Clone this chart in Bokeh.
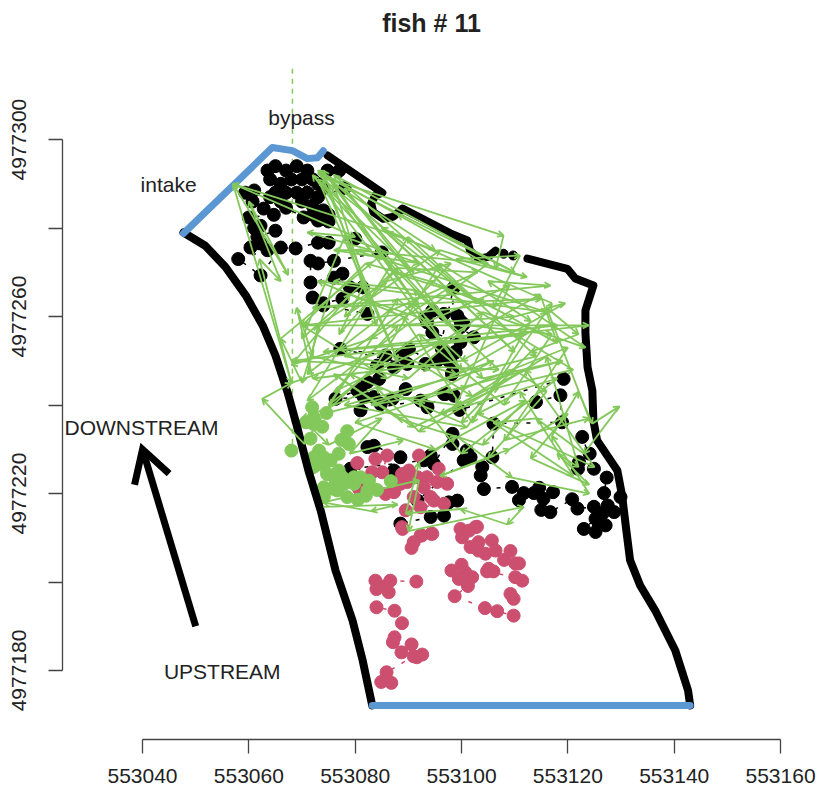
from bokeh.plotting import figure
from bokeh.models import ColumnDataSource, Arrow, OpenHead, FixedTicker, Title
from bokeh.core.properties import value
from bokeh.embed import file_html
from bokeh.resources import INLINE

X0 = 553000
Y0 = 4977000
x_ticks = [553040, 553060, 553080, 553100, 553120, 553140, 553160]
y_ticks = [4977180, 4977200, 4977220, 4977240, 4977260, 4977280, 4977300]
y_labelled = [4977180, 4977220, 4977260, 4977300]

bank_left = [(47.7,279),(51.8,276),(55.6,271.2),(59.4,264.8),(62.6,258),(65,251.2),(67.3,242.8),(69,235.4),
             (71.2,225.2),(73.5,216.2),(76.3,202.6),(79.5,191.3),(81.4,182.3),(83.2,172.1)]
bank_top = [(74.8,296.4),(85.1,288),(83.8,287.4),(83,285.6),(83.4,283.6),(85.3,282.1),(87.2,282.6),(88.9,284.4),
            (97.9,278.8),(101.1,277.2),(101.6,274.9),(103.2,273.1),(105,273.5),(106.4,274.9)]
bank_dots = [(107.9,274.2),(109.7,273.8)]
bank_right = [(112.4,273.1),(119.9,270.8),(121.4,268.6),(124.8,267),(123.3,261.4),(123.3,256.2),(123.7,248.5),
              (124.6,243.3),(124.8,236.5),(125.5,232),(129.3,225.2),(130.2,219.5),(131,211.6),(131.7,204.9),
              (133.6,199.2),(136.4,193.6),(140.2,184.5),(142.6,175.5),(143,172.1)]
intake = [(47.7,278.8),(64.4,298.2),(68.2,297.5),(71,295.7),(72.9,295.9),(74,297.5)]
upstream_edge = [(83.2,172.1),(143,172.1)]
bypass = [(68.2,316),(68.2,229.7)]
flow_arrow = [(50,190),(40,230)]
flow_head = [(38.5,222),(40,230),(45,224.5)]

black_top = [(63.5,293),(65,294),(64,291),(67,293),(69,294),(71,293),(72,291),(66,290),(68,291),(70,291),(73,290),
             (65,288),(67,288),(69,288),(71,288),(73,287),(74,289),(64,287),(66,286),(70,286),(72,285),(74,284),
             (75,283),(73.5,282),(75,281.5),(72,283),(74.8,293),(77,293),(78,289),(67,284.6),(70.3,282.4),(73,281.7)]
black_left = [(59.3,288),(61,288.5),(60.7,286),(62.8,284.4),(64.7,283),(60,282.4),(62.2,280.5),(61,280),(65,279.4),
              (61.6,278),(62.2,276.5),(60.3,275.6),(63.5,275),(58,273),(62.2,269.3),(66,275.6),(68.8,275.4),
              (73,276.7),(75,276.7),(80,277.6),(85,274.5),(76,272.6),(73,272),(71.6,272.6),(71.6,267.7),(76,268.8),
              (77.6,269.7),(79,266.6),(81.4,266.6),(77.6,264),(74,263),(72,264.3),(74,262.5),(82.3,260.6)]
black_mid = [(93.2,259.8),(93.5,258.7),(94.5,261.3),(96.7,260.6),(99.2,260.2),(100.4,258.3),(99.8,259),(99.8,257.6),
             (102.3,255.3),(98.8,252),(96.3,252.7),(94.5,256.4),(99.8,254.2),(96.7,252.3),(98.9,251.9),(97.9,250),
             (98.5,266.5),(95.4,250),(93.2,249.3),(97.6,250),(98.3,247.4),(98.2,247),(90.1,252.7),(88.5,251.2),
             (85.7,251.2),(77.2,252.7),(89.8,249.3),(87.3,248.5),(84.1,248.9),(84.5,245.9),(82.3,245.2),(81,243.6),
             (80.4,243.3),(76.3,241.4),(81.6,241.8),(83.5,241.8),(87,241.4),(89.5,243.6),(84.8,240.2),(81,238.8),
             (92.3,241),(93.6,239.5),(96.7,242.5),(97,242.5),(98.6,242.1),(99.6,238.9),(119.2,245.9)]
black_low = [(82.3,230.5),(83.5,230.8),(88.5,228.2),(87.3,225.2),(79.1,225.6),(92.9,227.5),(94.2,228.6),(94.8,226.7),
             (98.3,233.5),(98.3,231.2),(101,229.7),(101.7,228.2),(100.4,227.5),(91.7,218.4),(97.6,218),(99.2,218.4),
             (96.7,215),(94.2,214.7),(88.5,213.2)]
black_right = [(114,240.7),(118.6,242.2),(118.9,236.1),(106,235.8),(105.8,228.2),(103.9,226),(103.6,224.1),(104.2,221),
               (109.5,221.5),(111.7,220.1),(110.8,218.5),(113.6,220.1),(114.6,221.3),(115.4,218.8),(117.2,220.3),
               (115,216.3),(116.7,215.8),(120.8,218.7),(121.8,216.6),(124.9,217),(126.5,215.4),(125.2,214.3),(123,212),
               (125.2,211.3),(127.1,212.8),(125.8,213.2),(128.7,215.8),(127.5,217.3),(129.9,219.2),(126.8,220.1),
               (127.3,223.6),(124.9,225.6),(122.7,232.8),(124.1,229),(122.1,227.1),(121.9,225.6)]

red_upper = [(80.4,226.9),(83.8,227.8),(86,228.6),(85.1,224.8),(83.2,224.8),(80.7,221.1),(85.7,219.9),(87.3,220.3),
             (88.5,222.2),(88.8,224.4),(89.8,222.6),(90.1,225.2),(92,228.6),(91.7,223.7),(93.5,223.7),(95.7,225.6),
             (97.3,222.2),(95.4,222.6),(92.9,221.4),(91,219.2),(94.2,219.2),(94.8,218.4),(96.7,217.7),(92.3,216.9),
             (89.5,216.2),(88.9,212),(88.8,212.4),(91,209),(90.6,207.7),(92.5,210.5),(92.3,210.5),(94.3,210.9),
             (94.5,210.9)]
red_east = [(99.8,212),(100.1,210.1),(101.4,211.6),(102.6,212.4),(102.9,212.5),(103.2,209),(105.7,209.4),(106.4,207.1),
            (104.5,206.4),(103.2,207.1),(101.7,207.9),(100,203.9),(98.1,202.6),(100.7,202.2),(102,201.1),(99.5,200.7),
            (101.2,199.1),(98.7,196.8),(104.4,194.1),(106.7,193.4),(109.8,192.4),(109.8,196.2),(109.2,197.3),
            (111.4,200.3),(110.1,201.1),(104.8,202.4),(105.1,203),(106,202.4),(108,205),(110.1,204.2),(110.8,204.2),
            (109.2,207)]
red_west = [(91.5,200.1),(86.6,200.3),(85.4,199),(86.3,197.7),(84,198.4),(83.8,200.3),(84,194.3),(87.4,193.5),(88.8,190.7),
            (87.4,187.5),(87.1,186.4),(88.7,184.1),(90.6,185.9),(92.6,183.6),(91.6,183),(91,183.2),(85.9,179.6),
            (86.8,177.2),(84.9,177.4)]

green_pts = [(71.9,239.5),(74.6,238.2),(72.2,237.2),(70.7,236.1),(73.8,235.1),(72.2,235.7),(78.5,234.1),(71.6,232.4),
             (77.4,232.1),(78.8,231.2),(68,229.7),(73.2,229.7),(76.9,229),(72.2,228.2),(74.1,228.2),(75.4,227.5),
             (72.9,226.7),(74.1,226.3),(76.9,225.2),(75.7,224.1),(77.6,223.7),(79.8,223.7),(81,223.7),(82.6,222.9),
             (86.7,222.8),(76.3,222.2),(77.9,222.2),(79.8,222.2),(74.1,221.4),(75.7,221.1),(84.1,220.8),(82.3,220.7),
             (74.1,219.2),(78.5,219.2),(80.5,218.6),(82,219.5),(76.6,220.7),(74.7,224.4),(72.2,226)]

track = [(74,217),(88,217.5),(83,216),(74,218),(92,223),(90,211.5),(111.7,217),(108.6,213),(99.8,216.5),(89.5,215.5),
         (92,227),(99,233),(109.5,223.6),(124,220),(117,233),(122,243),(124.6,235.8),(129.7,239.7),(123,229),(114,237),
         (106,236),(121,224),(111,243),(103,238),(125,226),(112,248),(96,238),(118,246),(100,229),(92,241),(106,250),
         (83,240),(101,244),(120,253),(108,232),(124,237),(116,262),(122,256),(113,252),(100,236),(79,247),(70.4,231.2),
         (62.5,241.4),(68,245),(85,252),(99,247),(115,258),(123.9,258),(95,254),(76,243),(88,258),(110,260),(119.5,263),
         (100,250),(72,246),(69,262),(72,251),(90,246),(104,261),(123.3,253),(105,268),(116.7,267),(72,262),(115,264),
         (70,258),(118,258),(74,252),(112,256),(68,250),(107,248),(91,266),(76,268),(70,245),(66,255),(85,274),(100,255),
         (114.8,265),(118,254),(103,264),(87,270),(78,260),(96,275),(112.3,268.9),(99,273),(111,273.8),(106,262),(94,268),
         (82,272),(70,258),(86,246),(101,258),(117,256),(108,240),(92,256),(75,240),(88,264),(104,246),(119,250),(97,243),
         (80,236),(95,230),(112,241),(104,231),(88,237),(76,247),(91,235),(107,244),(121,248),(110,256),(97,266),(83,255),
         (68,249),(79,265),(94,259),(109,267),(99,240),(87,242),(74,238),(84,249),(96,272),(113,259),(102,236),(89,260),
         (73,268),(116,261),(80,275),(105,272),(71,241),(90,278),(114,251),(78,240),(101,235),(117,263),(85,280),(110,252),
         (75.4,291),(107.9,278.3),(106.4,270.8),(88,283),(73,293),(92,262),(74,293),(84,258),(76,290),(100,248),(72,292),
         (98,258),(78,289),(91,270),(73,291),(88,250),(74,291),(103,263),(76,292),(110,270),(73,292.5),(95,275),(86,279),
         (57,290),(68,245),(62,273),(66,268),(60,286),(67.4,269.4),(57,290),(80,278),(71,279),(83,275),(76,275),(92,272),
         (78,278),(70,255),(82,268),(77,256),(88,271),(103,270),(86,261),(71,247),(73,258),(86,268),(98,272),(90,262),
         (78,251),(94,248),(102,242),(110,248),(116,243),(105,228),(96,224),(109,230),(120,238),(113,228),(124,222),
         (118,229),(122,226),(116,251),(101,240),(92,234),(84,244),(70,237),(75,231),(85,237),(79,229),(89,232)]

GREEN = "#83C85A"
RED = "#CC4F70"
BLUE = "#5A97D3"
FONT = "Liberation Sans"
INK = "#222222"


def xs(pts):
    return [X0 + a for a, _ in pts]


def ys(pts):
    return [Y0 + b for _, b in pts]


p = figure(width=817, height=792, output_backend="svg", toolbar_location=None,
           x_range=(553024.95, 553163.75), y_range=(4977164.4, 4977322.4),
           min_border_left=62, min_border_right=17, min_border_top=40, min_border_bottom=53)
p.outline_line_color = None
p.background_fill_color = None
p.border_fill_color = "white"
p.grid.visible = False

p.title = Title(text="fish # 11", align="center", text_font=FONT, text_font_size="25px",
                text_font_style="bold", text_color=INK, standoff=8)

p.xaxis.bounds = (x_ticks[0], x_ticks[-1])
p.xaxis.ticker = FixedTicker(ticks=x_ticks)
p.xaxis.major_label_overrides = {v: str(v) for v in x_ticks}
p.yaxis.bounds = (y_ticks[0], y_ticks[-1])
p.yaxis.ticker = FixedTicker(ticks=y_ticks)
p.yaxis.major_label_overrides = {v: (str(v) if v in y_labelled else "") for v in y_ticks}
p.yaxis.major_label_orientation = "vertical"
for ax, standoff in ((p.xaxis[0], 15), (p.yaxis[0], 22)):
    ax.axis_line_color = "#444444"
    ax.axis_line_width = 1.3
    ax.major_tick_line_color = "#444444"
    ax.major_tick_line_width = 1.3
    ax.major_tick_in = 0
    ax.major_tick_out = 14
    ax.minor_tick_line_color = None
    ax.major_label_text_font = FONT
    ax.major_label_text_font_size = "21px"
    ax.major_label_text_color = INK
    ax.major_label_standoff = standoff

p.line(xs(bypass), ys(bypass), line_color=GREEN, line_width=1.5, line_dash="5 5")

for cluster in (black_top, black_left, black_mid, black_low, black_right):
    p.line(xs(cluster), ys(cluster), line_color="black", line_width=1.5, line_dash="4 8")
    p.scatter(xs(cluster), ys(cluster), size=13, color="black")

for cluster in (red_upper, red_east, red_west):
    p.line(xs(cluster), ys(cluster), line_color=RED, line_width=1.5, line_dash="4 8")
    p.scatter(xs(cluster), ys(cluster), size=13, color=RED)

p.scatter(xs(green_pts), ys(green_pts), size=13, color=GREEN)

for seg in (bank_left, bank_top, bank_right):
    p.line(xs(seg), ys(seg), line_color="black", line_width=8, line_cap="round", line_join="round")
p.scatter(xs(bank_dots), ys(bank_dots), size=9, color="black")
p.line(xs(intake), ys(intake), line_color=BLUE, line_width=7, line_cap="round", line_join="round")
p.line(xs(upstream_edge), ys(upstream_edge), line_color=BLUE, line_width=7, line_cap="round")

tx, ty = xs(track), ys(track)
src = ColumnDataSource(dict(x0=tx[:-1], y0=ty[:-1], x1=tx[1:], y1=ty[1:]))
p.add_layout(Arrow(source=src, x_start="x0", y_start="y0", x_end="x1", y_end="y1",
                   line_color=GREEN, line_width=1.8,
                   end=OpenHead(size=6, line_color=GREEN, line_width=1.8)))

p.line(xs(flow_arrow), ys(flow_arrow), line_color="black", line_width=7)
p.line(xs(flow_head), ys(flow_head), line_color="black", line_width=7, line_join="miter")

labels = ColumnDataSource(dict(x=[553069.9, 553044.9, 553039.8, 553055],
                               y=[4977305, 4977289.8, 4977234.9, 4977179.8],
                               t=["bypass", "intake", "DOWNSTREAM", "UPSTREAM"]))
p.text(x="x", y="y", text="t", source=labels, text_align="center", text_baseline="middle",
       text_font=value(FONT), text_font_size="21px", text_color=INK)

open("out.html", "w").write(file_html(p, INLINE))
